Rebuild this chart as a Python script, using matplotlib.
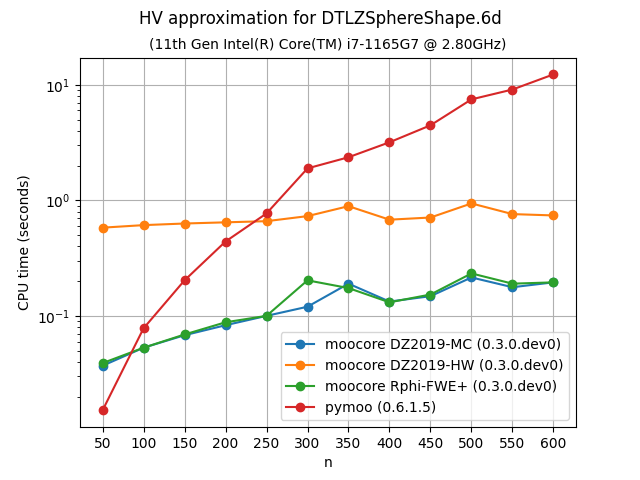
import matplotlib
matplotlib.use("Agg")
import matplotlib.pyplot as plt

n = [50, 100, 150, 200, 250, 300, 350, 400, 450, 500, 550, 600]
mc = [0.037, 0.053, 0.068, 0.083, 0.100, 0.120, 0.190, 0.133, 0.148, 0.215, 0.177, 0.195]
hw = [0.58, 0.61, 0.63, 0.645, 0.66, 0.73, 0.89, 0.68, 0.71, 0.94, 0.76, 0.74]
fwe = [0.039, 0.053, 0.069, 0.088, 0.100, 0.203, 0.174, 0.131, 0.153, 0.233, 0.190, 0.195]
pymoo = [0.0152, 0.078, 0.203, 0.44, 0.77, 1.89, 2.36, 3.18, 4.46, 7.48, 9.1, 12.3]

fig, ax = plt.subplots(figsize=(6.4, 4.8), dpi=100)
ax.plot(n, mc, "o-", label="moocore DZ2019-MC (0.3.0.dev0)")
ax.plot(n, hw, "o-", label="moocore DZ2019-HW (0.3.0.dev0)")
ax.plot(n, fwe, "o-", label="moocore Rphi-FWE+ (0.3.0.dev0)")
ax.plot(n, pymoo, "o-", label="pymoo (0.6.1.5)")
ax.set_yscale("log")
ax.set_xticks(n)
ax.grid(True)
ax.set_xlabel("n")
ax.set_ylabel("CPU time (seconds)")
fig.suptitle("HV approximation for DTLZSphereShape.6d")
ax.set_title("(11th Gen Intel(R) Core(TM) i7-1165G7 @ 2.80GHz)", fontsize=10)
ax.legend(loc="lower right")
fig.savefig("out.png")
